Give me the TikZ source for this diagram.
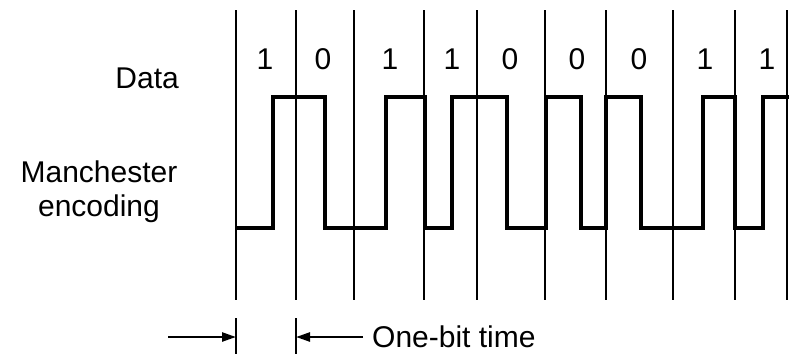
\documentclass[tikz,border=0pt]{standalone}
\usepackage{fontspec}
\setmainfont{Liberation Sans}
\usetikzlibrary{arrows.meta}
\begin{document}
\begin{tikzpicture}[x=1pt,y=-1pt,
  lbl/.style={font=\fontsize{30}{34}\selectfont, inner sep=0pt},
  gridline/.style={line width=1.5pt},
  signal/.style={line width=3.2pt, line join=miter},
  arr/.style={line width=2.4pt, -{Triangle[length=14pt,width=9pt]}}]
\useasboundingbox (0,0) rectangle (789,354);
% bit boundaries
\foreach \x in {236,296,354,424,477,545,606,673,735,787}
  \draw[gridline] (\x,10) -- (\x,300);
% Manchester signal
\draw[signal] (236,228) -- (273,228) -- (273,97) -- (325,97) -- (325,228)
  -- (386,228) -- (386,97) -- (425,97) -- (425,228) -- (452,228) -- (452,97)
  -- (507,97) -- (507,228) -- (546,228) -- (546,97) -- (581,97) -- (581,228)
  -- (606,228) -- (606,97) -- (641,97) -- (641,228) -- (703,228) -- (703,97)
  -- (735,97) -- (735,228) -- (763,228) -- (763,97) -- (789,97);
% data bits
\foreach \x/\b [count=\i] in {265/1,323/0,390/1,452/1,510/0,577/0,639/0,705/1,767/1}
  \node[lbl, anchor=base] (bit\i) at (\x,69) {\b};
% labels
\node[lbl, anchor=base east] (data) at (179,88) {Data};
\node[lbl, align=center, anchor=base] (manch) at (99,216) {Manchester\\encoding};
% one-bit time marker
\coordinate (t1top) at (236,318);
\coordinate (t1bot) at (236,354);
\coordinate (t2top) at (296,318);
\coordinate (t2bot) at (296,354);
\draw[gridline] (t1top) -- (t1bot);
\draw[gridline] (t2top) -- (t2bot);
\coordinate (t1) at (236,337);
\coordinate (t2) at (296,337);
\coordinate (a1) at (168,337);
\node[lbl, anchor=base west] (ob) at (372,347) {One-bit time};
\draw[arr] (a1) -- (t1);
\draw[arr] ([xshift=-9pt]ob.west |- t2) -- (t2);
\end{tikzpicture}
\end{document}
